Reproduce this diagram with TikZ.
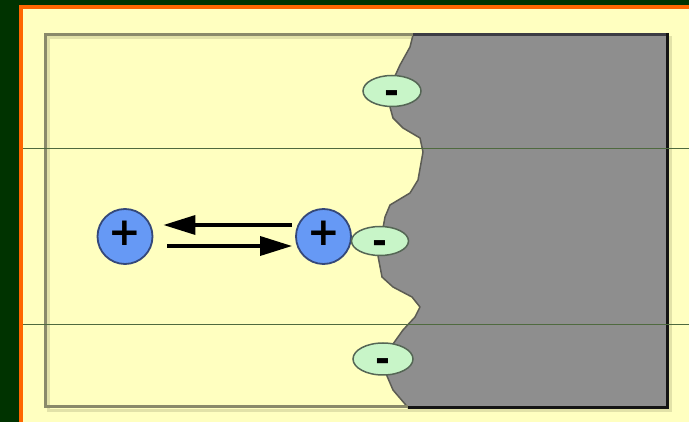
\documentclass[tikz,border=0pt]{standalone}
\usepackage{fontspec}
\newfontfamily\signfont{DejaVu Sans}
\usetikzlibrary{arrows.meta,shapes.geometric}
\definecolor{bgyellow}{HTML}{FFFFC0}
\definecolor{darkgreen}{HTML}{003300}
\definecolor{borderorange}{HTML}{FF6600}
\definecolor{boxline}{HTML}{8A8A6A}
\definecolor{boxshadow}{HTML}{E2E2A8}
\definecolor{metal}{HTML}{8E8E8E}
\definecolor{metalline}{HTML}{5C5C54}
\definecolor{metaltop}{HTML}{3C3C44}
\definecolor{metaledge}{HTML}{141414}
\definecolor{ionblue}{HTML}{6699F5}
\definecolor{ionedge}{HTML}{34487A}
\definecolor{anionfill}{HTML}{C8F5C8}
\definecolor{anionedge}{HTML}{556655}
\definecolor{guide}{HTML}{4F6A3F}
\begin{document}
\begin{tikzpicture}[x=1pt,y=-1pt,
  cation/.style={circle,draw=ionedge,line width=1.8pt,fill=ionblue,minimum size=55pt,inner sep=0pt},
  plussign/.style={inner sep=0pt,yshift=3pt,font=\signfont\bfseries\fontsize{39}{39}\selectfont},
  anion/.style={ellipse,draw=anionedge,line width=1.5pt,fill=anionfill,inner sep=0pt},
  minussign/.style={anchor=base,yshift=-13pt,inner sep=0pt,font=\signfont\bfseries\fontsize{36}{36}\selectfont},
  flow/.style={-{Triangle[length=32pt,width=19pt]},line width=3.5pt,black}]
\useasboundingbox (0,0) rectangle (689,422);
% background and borders
\fill[bgyellow] (0,0) rectangle (689,422);
\fill[darkgreen] (0,0) rectangle (689,5);
\fill[darkgreen] (0,0) rectangle (19,422);
\fill[borderorange] (19,5) rectangle (689,9.3);
\fill[borderorange] (19,5) rectangle (23,422);
% shadow of the frame
\draw[boxshadow,line width=3pt] (48.5,37.5) rectangle (670.5,410.5);
% metal
\fill[metal] (413,35) -- (668,35) -- (668,408) -- (408,408) -- (405,404) -- (393,390) -- (387,376)
  -- (385,359) -- (393,344) -- (403,330) -- (415,317) -- (420,307) -- (412,297) -- (393,287)
  -- (382,277) -- (378,256) -- (380,241) -- (383,228) -- (385,217) -- (390,205) -- (410,193)
  -- (418,180) -- (423,152) -- (420,138) -- (403,128) -- (393,118) -- (390,107) -- (392,91)
  -- (395,76) -- (400,65) -- (410,47) -- cycle;
\draw[metalline,line width=1.5pt,line join=round] (413,35) -- (410,47) -- (400,65) -- (395,76) -- (392,91)
  -- (390,107) -- (393,118) -- (403,128) -- (420,138) -- (423,152) -- (418,180) -- (410,193)
  -- (390,205) -- (385,217) -- (383,228) -- (380,241) -- (378,256) -- (382,277) -- (393,287)
  -- (412,297) -- (420,307) -- (415,317) -- (403,330) -- (393,344) -- (385,359) -- (387,376)
  -- (393,390) -- (405,404) -- (408,408);
% frame
\draw[boxline,line width=3pt] (413,34.5) -- (45.5,34.5) -- (45.5,406.5) -- (408,406.5);
\draw[metaltop,line width=3pt] (413,34.5) -- (669,34.5);
\draw[metaledge,line width=3pt] (667.5,33) -- (667.5,407.5) -- (408,407.5);
% guide lines
\draw[guide,line width=1pt] (23,149) -- (689,149);
\draw[guide,line width=1pt] (23,325) -- (689,325);
% ions
\node[cation] (c1) at (125,236.5) {};
\node[cation] (c2) at (323.5,236.5) {};
\node[plussign] (p1) at (c1.center) {+};
\node[plussign] (p2) at (c2.center) {+};
\node[anion,minimum width=58pt,minimum height=31pt] (a1) at (392,91) {};
\node[anion,minimum width=57pt,minimum height=29pt] (a2) at (380,241) {};
\node[anion,minimum width=60pt,minimum height=32pt] (a3) at (383,359) {};
\node[minussign] (m1) at (a1.center) {-};
\node[minussign] (m2) at (a2.center) {-};
\node[minussign] (m3) at (a3.center) {-};
% arrows
\draw[flow] ([xshift=-3pt,yshift=11.5pt]c2.west) -- ([xshift=10pt,yshift=11.5pt]c1.east);
\draw[flow] ([xshift=14pt,yshift=-9.5pt]c1.east) -- ([xshift=-3pt,yshift=-9.5pt]c2.west);
\end{tikzpicture}
\end{document}
